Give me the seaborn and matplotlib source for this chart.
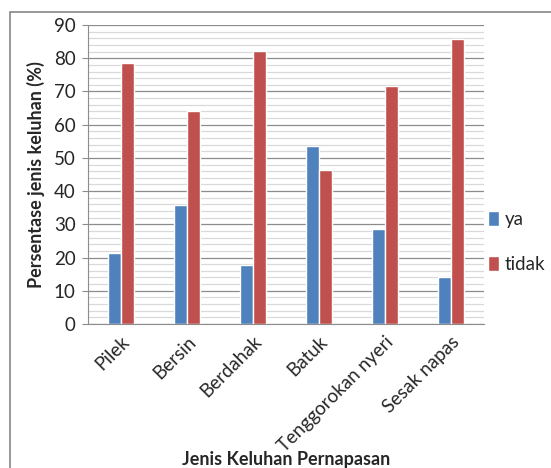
import matplotlib
matplotlib.use("Agg")
import matplotlib.pyplot as plt
import seaborn as sns
import pandas as pd
from matplotlib.patches import Rectangle
from matplotlib.ticker import MultipleLocator

# Data
categories = ["Pilek", "Bersin", "Berdahak", "Batuk", "Tenggorokan nyeri", "Sesak napas"]
ya = [21.3, 35.8, 17.8, 53.6, 28.5, 14.2]
tidak = [78.7, 64.2, 82.2, 46.4, 71.5, 85.8]

df = pd.DataFrame(
    {
        "kategori": categories * 2,
        "nilai": ya + tidak,
        "jawaban": ["ya"] * len(ya) + ["tidak"] * len(tidak),
    }
)

sns.set_style("white")
plt.rcParams["font.family"] = ["Lato", "DejaVu Sans"]

fig = plt.figure(figsize=(5.51, 4.68), dpi=100)
ax = fig.add_axes([88 / 551, 1 - 324 / 468, 396 / 551, 299 / 468])

sns.barplot(
    data=df,
    x="kategori",
    y="nilai",
    hue="jawaban",
    palette={"ya": "#4F81BD", "tidak": "#C0504D"},
    width=0.4,
    saturation=1,
    ax=ax,
)

ax.set_ylim(0, 90)
ax.yaxis.set_major_locator(MultipleLocator(10))
ax.yaxis.set_minor_locator(MultipleLocator(2))
ax.grid(axis="y", which="major", color="#8c8c8c", linewidth=0.9)
ax.grid(axis="y", which="minor", color="#d9d9d9", linewidth=0.9)
ax.set_axisbelow(True)

for s in ["top", "right"]:
    ax.spines[s].set_visible(False)
ax.spines["left"].set_color("#8c8c8c")
ax.spines["bottom"].set_color("#8c8c8c")

ax.tick_params(axis="y", which="major", left=True, length=4, color="#8c8c8c", labelsize=13.5, pad=5)
ax.tick_params(axis="y", which="minor", left=False)
ax.tick_params(axis="x", bottom=False, labelsize=13.5, pad=3)
plt.setp(ax.get_xticklabels(), rotation=45, ha="right", rotation_mode="anchor")

ax.set_xlabel("Jenis Keluhan Pernapasan", fontsize=13, fontweight="bold")
ax.set_ylabel("Persentase jenis keluhan (%)", fontsize=13, fontweight="bold", labelpad=6)
ax.xaxis.label.set_va("center")
ax.xaxis.set_label_coords(0.5, -0.452)

ax.legend(
    loc="center left",
    bbox_to_anchor=(0.99, 0.274),
    frameon=False,
    fontsize=13.5,
    handlelength=0.6,
    handleheight=0.8,
    labelspacing=1.5,
    handletextpad=0.3,
    borderaxespad=0.0,
)

# outer chart border like Excel
fig.patches.append(
    Rectangle((10 / 551, -0.05), 1.2, 1 - 12 / 468 + 0.05, transform=fig.transFigure,
              fill=False, edgecolor="#868686", linewidth=1.2)
)

fig.savefig("out.png", dpi=100)
